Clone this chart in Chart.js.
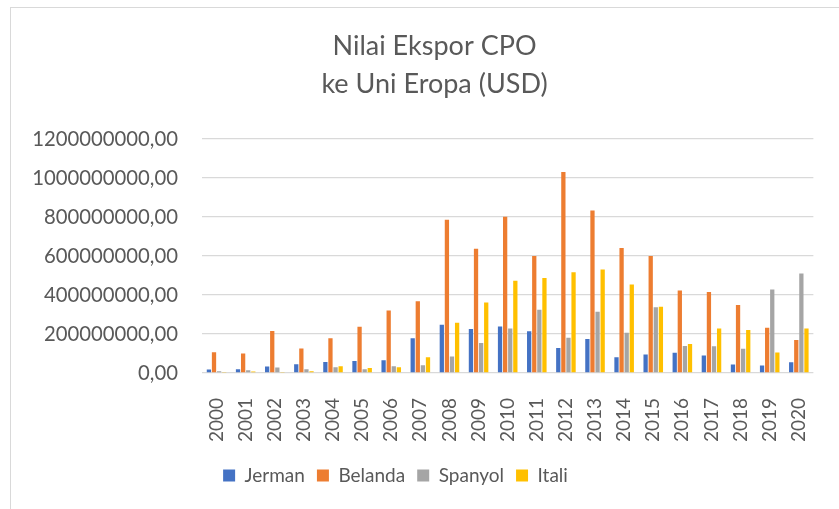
<!DOCTYPE html>
<html>
<head>
<meta charset="utf-8">
<script src="https://cdn.jsdelivr.net/npm/chart.js@4"></script>
<style>
  html, body { margin:0; padding:0; background:#fff; }
  #wrap { position:relative; width:839px; height:509px; }
  #frame { position:absolute; left:10px; top:7px; right:-2px; bottom:-2px; border-left:1.5px solid #d9d9d9; border-top:1.5px solid #d9d9d9; }
  canvas { position:absolute; left:0; top:0; }
</style>
</head>
<body>
<div id="wrap">
  <div id="frame"></div>
  <canvas id="c" width="839" height="509"></canvas>
</div>
<script>
const years = ["2000","2001","2002","2003","2004","2005","2006","2007","2008","2009","2010",
               "2011","2012","2013","2014","2015","2016","2017","2018","2019","2020"];
const jerman  = [18e6, 19e6, 33e6, 45e6, 57e6, 61e6, 66e6, 178e6, 247e6, 226e6, 238e6,
                 214e6, 128e6, 175e6, 81e6, 95e6, 104e6, 90e6, 43e6, 38e6, 55e6];
const belanda = [107e6, 100e6, 216e6, 126e6, 178e6, 237e6, 320e6, 368e6, 786e6, 637e6, 802e6,
                 600e6, 1031e6, 833e6, 641e6, 600e6, 423e6, 415e6, 349e6, 232e6, 169e6];
const spanyol = [9e6, 14e6, 28e6, 19e6, 29e6, 19e6, 35e6, 40e6, 85e6, 154e6, 228e6,
                 325e6, 181e6, 314e6, 206e6, 337e6, 138e6, 137e6, 124e6, 428e6, 511e6];
const itali   = [3e6, 8e6, 2e6, 9e6, 35e6, 26e6, 29e6, 81e6, 258e6, 361e6, 473e6,
                 487e6, 517e6, 531e6, 454e6, 340e6, 149e6, 228e6, 220e6, 105e6, 228e6];
const yTicks = [0, 200000000, 400000000, 600000000, 800000000, 1000000000, 1200000000];

const FONT = "Lato, 'Open Sans', sans-serif";
const txt = "#595959";

function ds(label, data, color){
  return { label, data, backgroundColor: color, borderWidth: 0,
           categoryPercentage: 0.7, barPercentage: 0.84 };
}

// Excel centres the title and the legend a little differently
const nudge = {
  id: "nudge",
  afterLayout(chart){
    const t = chart.titleBlock;
    if(t){ t.left += 18; t.right += 18; }
    const l = chart.legend;
    if(l){ l.left -= 21; l.right -= 21; }
  }
};

new Chart(document.getElementById("c"), {
  type: "bar",
  data: {
    labels: years,
    datasets: [
      ds("Jerman", jerman, "#4472C4"),
      ds("Belanda", belanda, "#ED7D31"),
      ds("Spanyol", spanyol, "#A5A5A5"),
      ds("Itali", itali, "#FFC000"),
    ]
  },
  plugins: [nudge],
  options: {
    responsive: false,
    animation: false,
    layout: { padding: { left: 10, right: 16, top: 8, bottom: 14 } },
    plugins: {
      title: {
        display: true,
        text: ["Nilai Ekspor CPO", "ke Uni Eropa (USD)"],
        color: txt,
        font: { family: FONT, size: 27, weight: "normal", lineHeight: 1.39 },
        padding: { top: 20, bottom: 36 }
      },
      legend: {
        position: "bottom",
        labels: {
          color: txt,
          font: { family: FONT, size: 19 },
          boxWidth: 12, boxHeight: 12, padding: 12
        }
      },
      tooltip: { enabled: false }
    },
    scales: {
      x: {
        afterFit: (s) => { s.height = 81; },
        grid: { display: false },
        border: { display: false },
        ticks: { color: txt, font: { family: FONT, size: 19 }, minRotation: 90, maxRotation: 90, padding: 17, autoSkip: false }
      },
      y: {
        min: 0, max: 1200000000,
        afterBuildTicks: (s) => { s.ticks = yTicks.map(v => ({ value: v })); },
        afterFit: (s) => { s.width = 192; },
        grid: { color: "#d9d9d9", lineWidth: 1.3, drawTicks: false },
        border: { display: false },
        ticks: {
          color: txt, font: { family: FONT, size: 20.3 }, padding: 24,
          callback: (v) => v.toFixed(0) + ",00"
        }
      }
    }
  }
});
</script>
</body>
</html>
